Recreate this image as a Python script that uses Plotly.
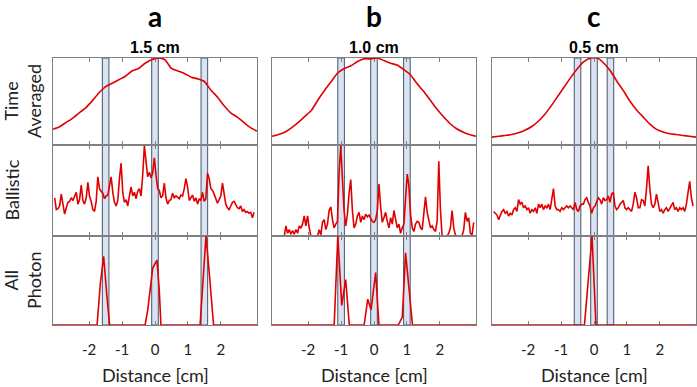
import numpy as np
import plotly.graph_objects as go

# ---------------- data ----------------
panel_letters = ["a", "b", "c"]
separation_labels = ["1.5 cm", "1.0 cm", "0.5 cm"]
source_positions = [[-1.5, 0.0, 1.5], [-1.0, 0.0, 1.0], [-0.5, 0.0, 0.5]]
row_labels = ["Time<br>Averaged", "Ballistic", "All<br>Photon"]
tick_vals = [-2, -1, 0, 1, 2]
tick_text = ["-2", "-1", "0", "1", "2"]

# time-averaged profiles (distance grid -3.1 .. 3.1, step 0.2)
time_x = np.round(np.arange(-3.1, 3.11, 0.2), 2)
time_a = [0.18, 0.21, 0.26, 0.31, 0.37, 0.43, 0.51, 0.60, 0.67, 0.71, 0.75, 0.79, 0.85, 0.88, 0.94, 0.98,
          1.0, 0.98, 0.88, 0.85, 0.82, 0.78, 0.76, 0.73, 0.63, 0.55, 0.45, 0.37, 0.32, 0.26, 0.20, 0.16]
time_b = [0.10, 0.12, 0.15, 0.20, 0.26, 0.33, 0.40, 0.52, 0.63, 0.73, 0.83, 0.88, 0.91, 0.96, 0.99, 0.99,
          1.0, 0.97, 0.94, 0.92, 0.87, 0.81, 0.71, 0.62, 0.52, 0.42, 0.33, 0.25, 0.19, 0.15, 0.12, 0.10]
time_c = [0.09, 0.10, 0.11, 0.12, 0.14, 0.17, 0.21, 0.27, 0.35, 0.45, 0.56, 0.67, 0.78, 0.88, 0.96, 1.0,
          1.0, 0.94, 0.85, 0.73, 0.62, 0.50, 0.40, 0.32, 0.24, 0.18, 0.15, 0.13, 0.12, 0.11, 0.10, 0.09]

# ballistic profiles (121 samples each)
ball_a_x = np.linspace(-3.05, 3.01, 121)
ball_a = [0.42, 0.29, 0.30, 0.33, 0.46, 0.33, 0.24, 0.31, 0.37, 0.38,
          0.42, 0.39, 0.44, 0.48, 0.35, 0.40, 0.56, 0.39, 0.35, 0.42,
          0.59, 0.44, 0.38, 0.29, 0.27, 0.38, 0.65, 0.52, 0.49, 0.47,
          0.41, 0.44, 0.45, 0.56, 0.65, 0.48, 0.37, 0.33, 0.39, 0.63,
          0.80, 0.48, 0.37, 0.40, 0.33, 0.44, 0.54, 0.44, 0.48, 0.41,
          0.49, 0.52, 0.44, 0.67, 0.99, 0.82, 0.65, 0.70, 0.64, 0.69,
          0.86, 0.67, 0.52, 0.50, 0.42, 0.44, 0.58, 0.42, 0.35, 0.39,
          0.40, 0.47, 0.42, 0.44, 0.42, 0.41, 0.45, 0.44, 0.52, 0.63,
          0.54, 0.39, 0.42, 0.45, 0.38, 0.42, 0.35, 0.41, 0.39, 0.48,
          0.38, 0.41, 0.69, 0.63, 0.52, 0.50, 0.46, 0.41, 0.36, 0.40,
          0.44, 0.58, 0.48, 0.35, 0.31, 0.29, 0.33, 0.37, 0.38, 0.34,
          0.31, 0.30, 0.33, 0.27, 0.29, 0.26, 0.27, 0.25, 0.26, 0.20,
          0.26]
ball_b_x = np.linspace(-3.03, 3.03, 121)
ball_b = [0, 0, 0, 0, 0, 0, 0, 0.11, 0.03, 0.07,
          0.02, 0.06, 0.02, 0.07, 0.03, 0.11, 0.09, 0.13, 0.22, 0.11,
          0.22, 0.09, 0, 0, 0, 0, 0, 0.07, 0.01, 0.15,
          0.18, 0.07, 0.13, 0.28, 0.32, 0.18, 0.09, 0.13, 0.16, 0.70,
          0.99, 0.62, 0.28, 0.11, 0.24, 0.47, 0.62, 0.28, 0.09, 0.13,
          0.22, 0.26, 0.15, 0.22, 0.18, 0.24, 0.21, 0.23, 0.20, 0.16,
          0.15, 0.18, 0.28, 0.57, 0.32, 0.15, 0.20, 0.26, 0.16, 0.09,
          0.20, 0.13, 0.28, 0.18, 0.09, 0.13, 0.03, 0.09, 0.13, 0.41,
          0.68, 0.55, 0.24, 0.09, 0.05, 0.13, 0.16, 0.15, 0.09, 0.07,
          0.28, 0.43, 0.26, 0.15, 0.09, 0.11, 0.07, 0.05, 0.16, 0.82,
          0.28, 0, 0, 0, 0, 0.03, 0.09, 0.28, 0.09, 0.01,
          0, 0, 0, 0, 0.07, 0.26, 0.16, 0.20, 0.03, 0.01,
          0.15]
ball_c_x = np.linspace(-3.05, 3.01, 121)
ball_c = [0.27, 0.25, 0.23, 0.18, 0.23, 0.27, 0.29, 0.25, 0.27, 0.22,
          0.25, 0.23, 0.29, 0.31, 0.27, 0.40, 0.35, 0.37, 0.31, 0.33,
          0.29, 0.31, 0.25, 0.29, 0.27, 0.31, 0.25, 0.35, 0.31, 0.35,
          0.29, 0.33, 0.31, 0.35, 0.29, 0.39, 0.52, 0.33, 0.29, 0.29,
          0.27, 0.31, 0.29, 0.31, 0.33, 0.31, 0.33, 0.31, 0.29, 0.37,
          0.29, 0.27, 0.33, 0.35, 0.35, 0.40, 0.42, 0.37, 0.33, 0.25,
          0.31, 0.33, 0.37, 0.42, 0.40, 0.35, 0.42, 0.39, 0.40, 0.44,
          0.37, 0.46, 0.48, 0.33, 0.29, 0.31, 0.35, 0.37, 0.39, 0.31,
          0.29, 0.31, 0.29, 0.27, 0.35, 0.48, 0.42, 0.31, 0.31, 0.40,
          0.39, 0.33, 0.52, 0.77, 0.52, 0.35, 0.31, 0.35, 0.46, 0.35,
          0.27, 0.29, 0.25, 0.29, 0.31, 0.27, 0.31, 0.35, 0.37, 0.29,
          0.31, 0.27, 0.31, 0.29, 0.31, 0.27, 0.35, 0.48, 0.60, 0.42,
          0.33]

# all-photon reconstructions
allp_a_x = [-3.1, -1.76, -1.66, -1.56, -1.46, -1.38, -0.30, -0.22, -0.07, 0.06, 0.13, 0.18,
            1.37, 1.45, 1.55, 1.65, 1.78, 3.1]
allp_a = [0, 0, 0.47, 0.77, 0.32, 0, 0, 0.17, 0.64, 0.73, 0.39, 0,
          0, 0.40, 1.0, 0.58, 0, 0]
allp_b_x = [-3.1, -1.21, -1.10, -0.98, -0.86, -0.75, -0.30, -0.19, -0.09, 0.05, 0.15,
            0.74, 0.86, 0.96, 1.17, 3.1]
allp_b = [0, 0, 1.0, 0.22, 0.51, 0, 0, 0.29, 0.17, 0.59, 0,
          0, 0.09, 0.81, 0, 0]
allp_c_x = [-3.1, -0.29, -0.06, 0.06, 3.1]
allp_c = [0, 0, 1.0, 0, 0]

series = [
    [(time_x, time_a), (time_x, time_b), (time_x, time_c)],
    [(ball_a_x, ball_a), (ball_b_x, ball_b), (ball_c_x, ball_c)],
    [(allp_a_x, allp_a), (allp_b_x, allp_b), (allp_c_x, allp_c)],
]

# ---------------- layout ----------------
W, H = 697, 387
cols_px = [(53, 257), (272, 476), (492, 696)]
rows_px = [(58, 145), (145, 236), (236, 325)]
bar_width = 0.2
RED = "#e10000"
AXC = "#808080"
FONT = "Lato"

fig = go.Figure()
layout = dict(width=W, height=H, margin=dict(l=0, r=0, t=0, b=0), autosize=False,
              plot_bgcolor="white", paper_bgcolor="white", showlegend=False)
shapes = []
annotations = []

for r in range(3):
    for c in range(3):
        idx = r * 3 + c + 1
        xn = "x" if idx == 1 else f"x{idx}"
        yn = "y" if idx == 1 else f"y{idx}"
        xd = [cols_px[c][0] / W, cols_px[c][1] / W]
        yd = [1 - rows_px[r][1] / H, 1 - rows_px[r][0] / H]
        layout["xaxis" if idx == 1 else f"xaxis{idx}"] = dict(
            domain=xd, anchor=yn, range=[-3.1, 3.1], showgrid=False, zeroline=False,
            showline=True, linecolor=AXC, linewidth=1, mirror="ticks",
            ticks="inside", ticklen=4, tickcolor=AXC, tickwidth=1,
            tickvals=tick_vals, ticktext=tick_text, showticklabels=(r == 2),
            tickfont=dict(family=FONT, size=15, color="#222"), ticklabelstandoff=11,
            layer="below traces")
        layout["yaxis" if idx == 1 else f"yaxis{idx}"] = dict(
            domain=yd, anchor=xn, range=[0, 1], showgrid=False, zeroline=False,
            showline=True, linecolor=AXC, linewidth=1, mirror=True, ticks="",
            showticklabels=False, layer="below traces")
        for p in source_positions[c]:
            shapes.append(dict(type="rect", xref=xn, yref=f"{yn} domain",
                               x0=p - bar_width / 2, x1=p + bar_width / 2, y0=0, y1=1,
                               fillcolor="#dbe3f3", line=dict(color="#44546a", width=1),
                               layer="below"))
        xs, ys = series[r][c]
        fig.add_trace(go.Scatter(x=xs, y=ys, xaxis=xn, yaxis=yn, mode="lines",
                                 line=dict(color=RED, width=1.6,
                                           shape="spline" if r == 0 else "linear",
                                           smoothing=0.6 if r == 0 else 0),
                                 hoverinfo="skip"))

for c in range(3):
    xc = (cols_px[c][0] + cols_px[c][1]) / 2 / W
    annotations.append(dict(text=f"<b>{panel_letters[c]}</b>", x=xc, y=1 - 16 / H, xref="paper",
                            yref="paper", showarrow=False, xanchor="center", yanchor="middle",
                            font=dict(family=FONT, size=28, color="black")))
    annotations.append(dict(text=f"<b>{separation_labels[c]}</b>", x=xc, y=1 - 47 / H, xref="paper",
                            yref="paper", showarrow=False, xanchor="center", yanchor="middle",
                            font=dict(family="Liberation Sans", size=16, color="black")))
    annotations.append(dict(text="Distance [cm]", x=xc, y=1 - 375 / H, xref="paper",
                            yref="paper", showarrow=False, xanchor="center", yanchor="middle",
                            font=dict(family=FONT, size=18, color="#222")))

row_label_x = [22.5, 11, 22.5]
for r in range(3):
    yc = 1 - (rows_px[r][0] + rows_px[r][1]) / 2 / H
    annotations.append(dict(text=row_labels[r], x=row_label_x[r] / W, y=yc, xref="paper",
                            yref="paper", showarrow=False, xanchor="center", yanchor="middle",
                            textangle=-90, font=dict(family=FONT, size=18, color="#222")))

layout["shapes"] = shapes
layout["annotations"] = annotations
fig.update_layout(**layout)
fig.write_html("out.html", config={"displayModeBar": False, "staticPlot": True},
               post_script="document.body.style.margin='0px';document.body.style.overflow='hidden';")
